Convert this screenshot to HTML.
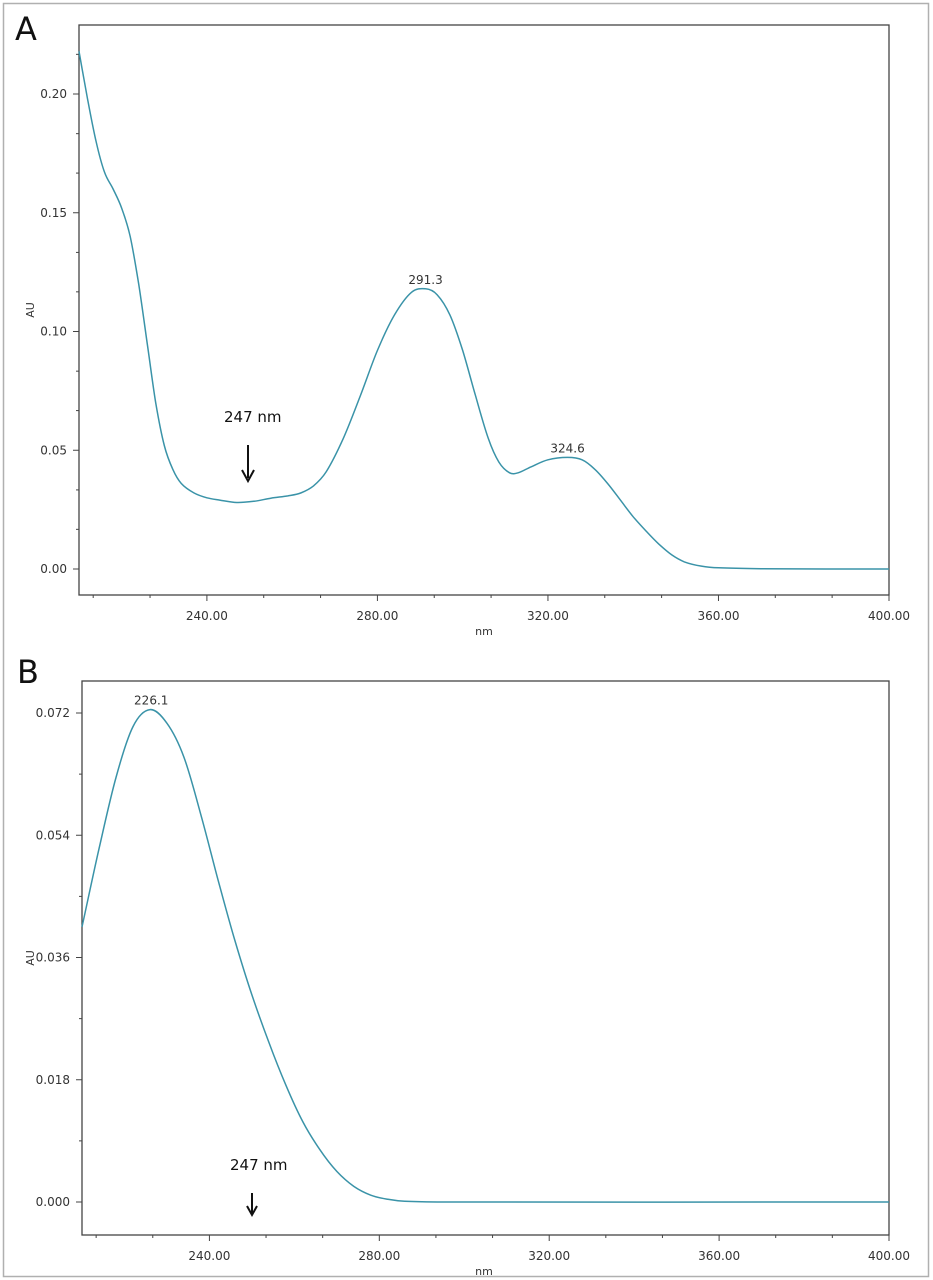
<!DOCTYPE html>
<html><head><meta charset="utf-8"><style>
html,body{margin:0;padding:0;background:#fff;}
svg{display:block;font-family:"DejaVu Sans","Liberation Sans",sans-serif;}
</style></head><body>
<svg id="s" width="933" height="1280" viewBox="0 0 933 1280" xmlns="http://www.w3.org/2000/svg">
<rect x="3.5" y="3.5" width="925" height="1273" fill="#fff" stroke="#b0b0b0" stroke-width="1.5"/>
<text x="15" y="40" font-size="32" font-family="DejaVu Sans, sans-serif" fill="#111">A</text>
<text x="17" y="683" font-size="32" font-family="DejaVu Sans, sans-serif" fill="#111">B</text>
<g id="g"></g>
</svg>
<script>
var NS="http://www.w3.org/2000/svg",g=document.getElementById('g');
function el(t,a,txt){var e=document.createElementNS(NS,t);for(var k in a)e.setAttribute(k,a[k]);if(txt!=null)e.textContent=txt;g.appendChild(e);return e;}
function path(pts){var d="M"+pts[0][0].toFixed(1)+","+pts[0][1].toFixed(1);
for(var i=0;i<pts.length-1;i++){var p0=pts[i-1]||pts[i],p1=pts[i],p2=pts[i+1],p3=pts[i+2]||p2;
var h=p2[0]-p1[0];
var m1=(p2[1]-p0[1])/(p2[0]-p0[0]||1),m2=(p3[1]-p1[1])/(p3[0]-p1[0]||1);
var c1=[p1[0]+h/3,p1[1]+m1*h/3],c2=[p2[0]-h/3,p2[1]-m2*h/3];
d+="C"+c1[0].toFixed(1)+","+c1[1].toFixed(1)+" "+c2[0].toFixed(1)+","+c2[1].toFixed(1)+" "+p2[0].toFixed(1)+","+p2[1].toFixed(1);}
return d;}
function plot(o){
 var L=o.L,T=o.T,R=o.R,B=o.B;
 var X=function(v){return L+(v-210)*(R-L)/190;};
 var Y=function(v){return o.y0+(v)*o.sy;};
 el('rect',{x:L,y:T,width:R-L,height:B-T,fill:'none',stroke:'#444','stroke-width':1.3});
 for(var v=240;v<=400;v+=40){var x=X(v);el('line',{x1:x,y1:B,x2:x,y2:B+6,stroke:'#444'});
  el('text',{x:x,y:B+25,'font-size':12,'text-anchor':'middle',fill:'#333'},v.toFixed(2));}
 for(var v=213.33;v<400;v+=13.333){if(Math.abs((v-200)%40)<1||Math.abs((v-200)%40-40)<1)continue;var x=X(v);el('line',{x1:x,y1:B,x2:x,y2:B+3,stroke:'#444'});}
 el('text',{x:484,y:B+40,'font-size':11,'text-anchor':'middle',fill:'#333'},'nm');
 o.yt.forEach(function(t){var y=Y(t[0]);el('line',{x1:L-6,y1:y,x2:L,y2:y,stroke:'#444'});
  el('text',{x:L-12,y:y+4,'font-size':12,'text-anchor':'end',fill:'#333'},t[1]);});
 o.ym.forEach(function(v){var y=Y(v);el('line',{x1:L-3,y1:y,x2:L,y2:y,stroke:'#444'});});
 var ax=34,ay=(T+B)/2;
 el('text',{x:ax,y:ay,'font-size':11,'text-anchor':'middle',fill:'#333',transform:'rotate(-90 '+ax+' '+ay+')'},'AU');
 var pts=o.d.map(function(p){return [X(p[0]),Y(p[1])];});
 el('path',{d:path(pts),fill:'none',stroke:'#3a93a8','stroke-width':1.5});
 o.lab.forEach(function(l){el('text',{x:X(l[0]),y:Y(l[1])-5,'font-size':12,'text-anchor':'middle',fill:'#333'},l[2]);});
}
plot({L:79,T:25,R:889,B:595,y0:569,sy:-2375,
 yt:[[0,'0.00'],[0.05,'0.05'],[0.10,'0.10'],[0.15,'0.15'],[0.20,'0.20']],
 ym:[0.0167,0.0333,0.0667,0.0833,0.1167,0.1333,0.1667,0.1833,0.2167],
 d:[[210,0.218],[212,0.198],[214,0.18],[216,0.167],[218,0.16],[220,0.152],[222,0.14],[224,0.12],[226,0.095],[228,0.07],[230,0.052],[232,0.042],[234,0.036],[237,0.032],[240,0.030],[243,0.029],[247,0.028],[251,0.0285],[255,0.0298],[259,0.0308],[262,0.032],[265,0.035],[268,0.041],[272,0.055],[276,0.073],[280,0.092],[284,0.107],[288,0.1165],[291.3,0.118],[294,0.1155],[297,0.107],[300,0.092],[303,0.073],[306,0.055],[308.5,0.045],[311,0.0405],[313,0.0405],[316,0.043],[320,0.046],[324.6,0.047],[328,0.046],[331,0.042],[334,0.036],[337,0.029],[340,0.022],[343,0.016],[346,0.0105],[349,0.006],[352,0.003],[356,0.0012],[360,0.0005],[370,0.0001],[385,0],[400,0]],
 lab:[[291.3,0.118,'291.3'],[324.6,0.047,'324.6']]});
plot({L:82,T:681,R:889,B:1235,y0:1202,sy:-122.25/0.018,
 yt:[[0,'0.000'],[0.018,'0.018'],[0.036,'0.036'],[0.054,'0.054'],[0.072,'0.072']],
 ym:[0.009,0.027,0.045,0.063],
 d:[[210,0.0405],[214,0.052],[218,0.0625],[222,0.0700],[226,0.0725],[230,0.0705],[234,0.0655],[238,0.057],[242,0.0475],[246,0.0385],[250,0.0305],[254,0.0235],[258,0.0172],[262,0.0118],[266,0.0077],[270,0.0045],[274,0.0023],[278,0.001],[282,0.0004],[286,0.0001],[295,0],[400,0]],
 lab:[[226.3,0.0725,'226.1']]});
el('text',{x:224,y:422,'font-size':15,fill:'#111'},'247 nm');
el('line',{x1:248,y1:445,x2:248,y2:478,stroke:'#111','stroke-width':2});
el('path',{d:'M242,470 L248,481 L254,470',fill:'none',stroke:'#111','stroke-width':2});
el('text',{x:230,y:1170,'font-size':15,fill:'#111'},'247 nm');
el('line',{x1:252,y1:1193,x2:252,y2:1213,stroke:'#111','stroke-width':2});
el('path',{d:'M247,1206 L252,1215 L257,1206',fill:'none',stroke:'#111','stroke-width':2});
</script>
</body></html>
